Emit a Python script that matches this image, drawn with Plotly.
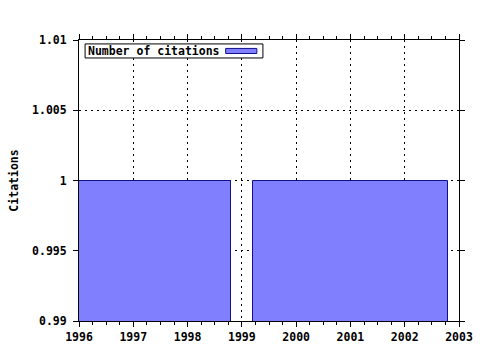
import plotly.graph_objects as go

years = [1997, 2001]
citations = [1, 1]
bar_width = 3.6
x_ticks = [1996, 1997, 1998, 1999, 2000, 2001, 2002, 2003]
y_ticks = [0.99, 0.995, 1, 1.005, 1.01]
y_tick_labels = ["0.99", "0.995", "1", "1.005", "1.01"]
series_name = "Number of citations"

FONT = dict(family="DejaVu Sans Mono", size=11.5, color="black")
BFONT = dict(family="DejaVu Sans Mono", size=11.5, color="black", weight="bold")

fig = go.Figure()
fig.add_trace(go.Bar(
    x=years, y=citations, base=0, width=bar_width,
    marker=dict(color="#8080ff", line=dict(color="#10108c", width=1)),
    name=series_name, showlegend=False,
))

axis_common = dict(
    showline=True, linecolor="black", linewidth=1, mirror="allticks",
    ticks="outside", ticklen=5, tickcolor="black", tickwidth=1,
    showgrid=True, gridcolor="black", griddash="2px,4px", gridwidth=1,
    zeroline=False, tickfont=BFONT, automargin=False,
)

fig.update_xaxes(
    range=[1996, 2003], tickvals=x_ticks, ticktext=[str(v) for v in x_ticks],
    minor=dict(ticks="outside", ticklen=3, dtick=0.25, tick0=1996, tickcolor="black", showgrid=False),
    **axis_common,
)
fig.update_yaxes(
    range=[0.99, 1.01], tickvals=y_ticks, ticktext=y_tick_labels,
    ticklabelstandoff=4,
    title=dict(text="Citations", font=BFONT, standoff=11),
    **axis_common,
)

# legend box (gnuplot style: text then sample)
fig.add_shape(
    type="rect", xref="paper", yref="paper",
    x0=0.016, x1=0.484, y0=0.936, y1=0.986,
    fillcolor="white", line=dict(color="black", width=1), layer="above",
)
fig.add_shape(
    type="rect", xref="paper", yref="paper",
    x0=0.386, x1=0.468, y0=0.952, y1=0.970,
    fillcolor="#8080ff", line=dict(color="#10108c", width=1), layer="above",
)
fig.add_annotation(
    xref="paper", yref="paper", x=0.018, y=0.961, xanchor="left", yanchor="middle",
    text="<b>" + series_name + "</b>",
    showarrow=False, font=FONT,
)

fig.update_layout(
    width=480, height=350,
    margin=dict(l=79, r=21, t=40, b=29),
    paper_bgcolor="white", plot_bgcolor="white",
    font=FONT, bargap=0,
)

fig.write_html("out.html")
